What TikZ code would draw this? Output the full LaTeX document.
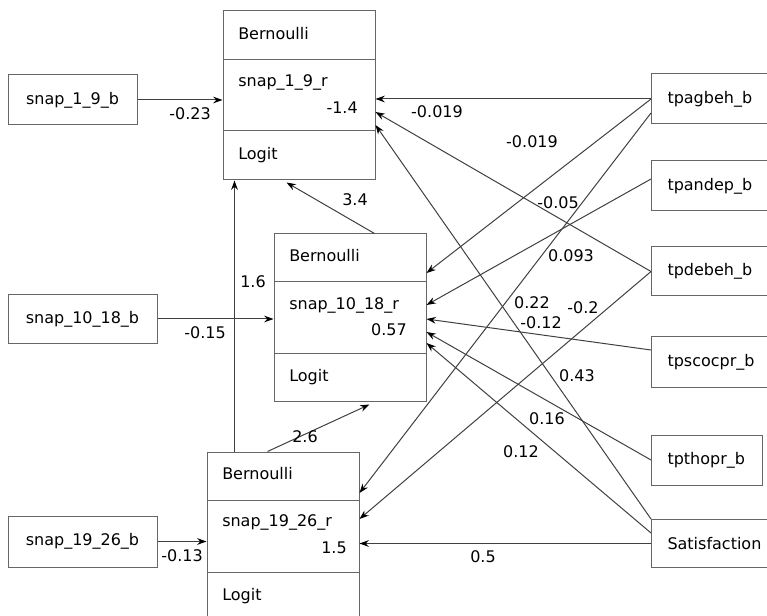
\documentclass[tikz,border=0pt]{standalone}
\usepackage{fontspec}
\setmainfont{DejaVu Sans}
\usetikzlibrary{arrows.meta,calc}
\begin{document}
\begin{tikzpicture}[x=0.75pt,y=-0.75pt,
  every node/.style={font=\fontsize{12}{14}\selectfont},
  sec/.style 2 args={draw=black!60,line width=0.75pt,inner sep=0pt,minimum width=#1*0.75pt,minimum height=#2*0.75pt},
  lboxa/.style={draw=black!60,line width=0.75pt,inner ysep=0pt,inner xsep=11.25pt,text width=74.25pt,align=center,minimum height=37.5pt},
  lboxb/.style={draw=black!60,line width=0.75pt,inner ysep=0pt,inner xsep=11.25pt,text width=89.25pt,align=center,minimum height=#1*0.75pt},
  rbox/.style={draw=black!60,line width=0.75pt,inner ysep=0pt,inner xsep=12pt,text width=73.5pt,align=left,minimum height=#1*0.75pt,anchor=west},
  rboxs/.style={draw=black!60,line width=0.75pt,inner ysep=0pt,inner xsep=12pt,text width=59.25pt,align=left,minimum height=37.5pt,anchor=west},
  stxt/.style={inner sep=0pt,anchor=mid west},
  vtxt/.style={inner sep=0pt,anchor=mid east},
  lab/.style={inner sep=0pt},
  conn/.style={draw=black!75,line width=0.75pt,-{Stealth[length=7pt,width=5pt,color=black]}}
]
\useasboundingbox (0,0) rectangle (767,616);
\clip (0,0) rectangle (767,616);

% composite box 1
\node[sec={152}{49}] (b1t) at (299,35.5) {};
\node[sec={152}{71}] (b1m) at (299,95.5) {};
\node[sec={152}{49}] (b1b) at (299,155.5) {};
\node[stxt] (b1tt) at (238,35.5) {Bernoulli};
\node[stxt] (b1n) at (238,83) {snap\_1\_9\_r};
\node[vtxt] (b1v) at (358,110) {-1.4};
\node[stxt] (b1bt) at (238,155.5) {Logit};

% composite box 2
\node[sec={152}{48}] (b2t) at (350,258) {};
\node[sec={152}{72}] (b2m) at (350,318) {};
\node[sec={152}{47}] (b2b) at (350,377.5) {};
\node[stxt] (b2tt) at (289,258) {Bernoulli};
\node[stxt] (b2n) at (289,306) {snap\_10\_18\_r};
\node[vtxt] (b2v) at (407,332) {0.57};
\node[stxt] (b2bt) at (289,377.5) {Logit};

% composite box 3
\node[sec={152}{48}] (b3t) at (283,476) {};
\node[sec={152}{72}] (b3m) at (283,536) {};
\node[sec={152}{49}] (b3b) at (283,596.5) {};
\node[stxt] (b3tt) at (222,476) {Bernoulli};
\node[stxt] (b3n) at (222,523) {snap\_19\_26\_r};
\node[vtxt] (b3v) at (347,550) {1.5};
\node[stxt] (b3bt) at (222,597) {Logit};

% left boxes
\node[lboxa] (sn1) at (72.5,100) {snap\_1\_9\_b};
\node[lboxb=49] (sn2) at (82.5,319) {snap\_10\_18\_b};
\node[lboxb=51] (sn3) at (82.5,541.5) {snap\_19\_26\_b};

% right boxes
\node[rbox=50] (ra) at (651,99) {tpagbeh\_b};
\node[rbox=50] (rb) at (651,186) {tpandep\_b};
\node[rbox=49] (rc) at (651,271.5) {tpdebeh\_b};
\node[rbox=50] (rd) at (651,362) {tpscocpr\_b};
\node[rboxs] (re) at (651,460) {tpthopr\_b};
\node[rbox=48] (rf) at (651,543.5) {Satisfaction};

% connector end points
\coordinate (v1) at ($(b3t.north west)+(28,0)$);
\coordinate (v2) at ($(b3t.north west)+(61,0)$);
\coordinate (v3) at ($(b2t.north west)+(101,0)$);

% connectors
\draw[conn] (sn1.east) -- (sn1.east -| b1m.west) node[lab,at={(190,114)}] {-0.23};
\draw[conn] (sn2.east) -- (sn2.east -| b2m.west) node[lab,at={(205,333)}] {-0.15};
\draw[conn] (sn3.east) -- (sn3.east -| b3m.west) node[lab,at={(182,556)}] {-0.13};

\draw[conn] (ra.west) -- (ra.west -| b1m.east) node[lab,at={(437,112)}] {-0.019};
\draw[conn] (ra.west) -- ($(b2t.east)+(0,15)$) node[lab,at={(532,142)}] {-0.019};
\draw[conn] ($(ra.west)+(0,14)$) -- ($(b3t.east)+(0,17)$) node[lab,at={(532,303)}] {0.22};
\draw[conn] ($(rb.west)+(0,-7)$) -- ($(b2m.east)+(0,-13)$) node[lab,at={(571,256)}] {0.093};
\draw[conn] (rc.west) -- ($(b1m.east)+(0,16.5)$) node[lab,at={(558,203)}] {-0.05};
\draw[conn] (rc.west) -- ($(b3m.east)+(0,-17)$) node[lab,at={(583,308)}] {-0.2};
\draw[conn] ($(rd.west)+(0,-12)$) -- ($(b2m.east)+(0,1)$) node[lab,at={(541,323)}] {-0.12};
\draw[conn] (re.west) -- ($(b2m.east)+(0,14)$) node[lab,at={(547,419)}] {0.16};
\draw[conn] (rf.north west) -- ($(b1m.east)+(0,29.5)$) node[lab,at={(577,376)}] {0.43};
\draw[conn] ($(rf.west)+(0,-10.5)$) -- ($(b2m.east)+(0,25)$) node[lab,at={(521,452)}] {0.12};
\draw[conn] (rf.west) -- (rf.west -| b3m.east) node[lab,at={(483,557)}] {0.5};

\draw[conn] (v1) -- (v1 |- b1b.south) node[lab,at={(253,282)}] {1.6};
\draw[conn] (v2) -- ($(b2b.south west)+(96,3)$) node[lab,at={(305,437)}] {2.6};
\draw[conn] (v3) -- ($(b1b.south west)+(64,2)$) node[lab,at={(355,200)}] {3.4};
\end{tikzpicture}
\end{document}
